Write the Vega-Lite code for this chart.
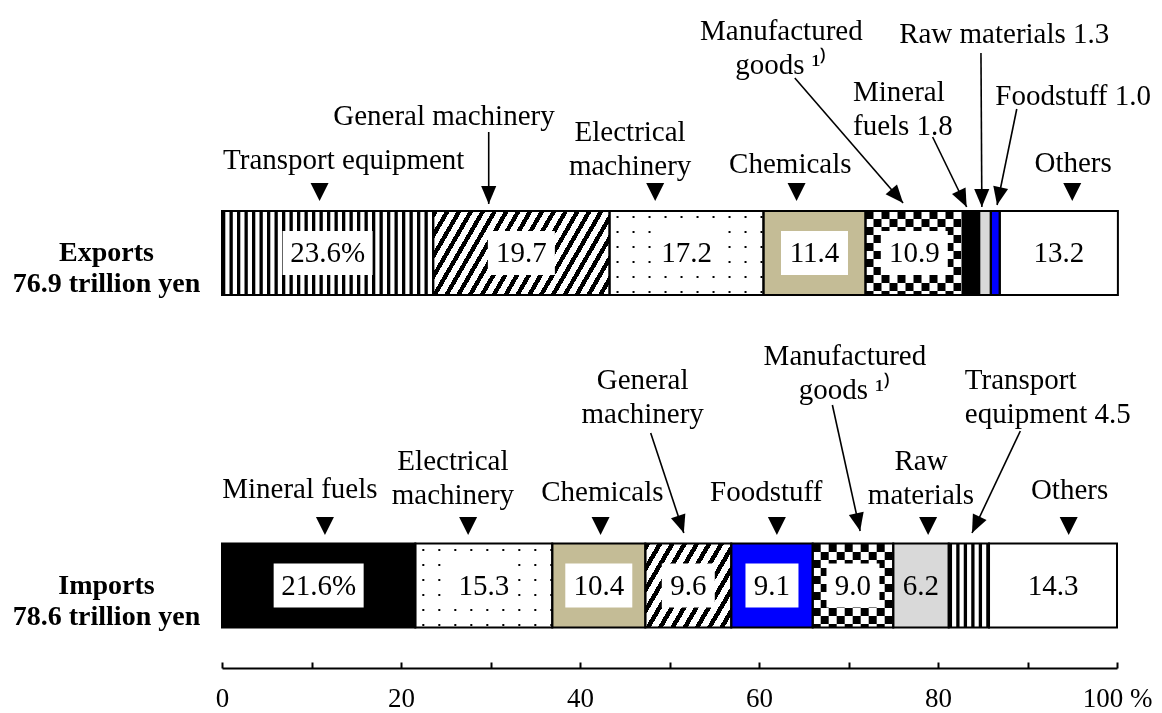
{
  "$schema": "https://vega.github.io/schema/vega-lite/v6.json",
  "width": 895,
  "height": 668,
  "autosize": {"type": "none"},
  "padding": {"left": 222, "top": 0, "right": 45, "bottom": 45},
  "background": "white",
  "config": {"view": {"stroke": null}, "font": "Liberation Serif"},
  "datasets": {
    "segments": [
      {"flow": "Exports|76.9 trillion yen", "category": "Transport equipment", "idx": 1, "value": 23.6},
      {"flow": "Exports|76.9 trillion yen", "category": "General machinery", "idx": 2, "value": 19.7},
      {"flow": "Exports|76.9 trillion yen", "category": "Electrical machinery", "idx": 3, "value": 17.2},
      {"flow": "Exports|76.9 trillion yen", "category": "Chemicals", "idx": 4, "value": 11.4},
      {"flow": "Exports|76.9 trillion yen", "category": "Manufactured goods", "idx": 5, "value": 10.9},
      {"flow": "Exports|76.9 trillion yen", "category": "Mineral fuels", "idx": 6, "value": 1.8},
      {"flow": "Exports|76.9 trillion yen", "category": "Raw materials", "idx": 7, "value": 1.3},
      {"flow": "Exports|76.9 trillion yen", "category": "Foodstuff", "idx": 8, "value": 1.0},
      {"flow": "Exports|76.9 trillion yen", "category": "Others", "idx": 9, "value": 13.2},
      {"flow": "Imports|78.6 trillion yen", "category": "Mineral fuels", "idx": 1, "value": 21.6},
      {"flow": "Imports|78.6 trillion yen", "category": "Electrical machinery", "idx": 2, "value": 15.3},
      {"flow": "Imports|78.6 trillion yen", "category": "Chemicals", "idx": 3, "value": 10.4},
      {"flow": "Imports|78.6 trillion yen", "category": "General machinery", "idx": 4, "value": 9.6},
      {"flow": "Imports|78.6 trillion yen", "category": "Foodstuff", "idx": 5, "value": 9.1},
      {"flow": "Imports|78.6 trillion yen", "category": "Manufactured goods", "idx": 6, "value": 9.0},
      {"flow": "Imports|78.6 trillion yen", "category": "Raw materials", "idx": 7, "value": 6.2},
      {"flow": "Imports|78.6 trillion yen", "category": "Transport equipment", "idx": 8, "value": 4.5},
      {"flow": "Imports|78.6 trillion yen", "category": "Others", "idx": 9, "value": 14.3}
    ],
    "labels": [
      {"text": "Transport equipment", "x": 13.6, "y": 50.8},
      {"text": "General machinery", "x": 24.8, "y": 55.2},
      {"text": "Electrical\nmachinery", "x": 45.6, "y": 53.6},
      {"text": "Chemicals", "x": 63.5, "y": 50.4},
      {"text": "Manufactured\ngoods ¹⁾", "x": 62.5, "y": 63.7},
      {"text": "Mineral\nfuels 1.8", "x": 70.5, "y": 57.6},
      {"text": "Raw materials 1.3", "x": 87.4, "y": 63.4},
      {"text": "Foodstuff 1.0", "x": 95.1, "y": 57.2},
      {"text": "Others", "x": 95.1, "y": 50.5},
      {"text": "Mineral fuels", "x": 8.7, "y": 17.9},
      {"text": "Electrical\nmachinery", "x": 25.8, "y": 20.7},
      {"text": "Chemicals", "x": 42.5, "y": 17.6},
      {"text": "General\nmachinery", "x": 47.0, "y": 28.8},
      {"text": "Foodstuff", "x": 60.8, "y": 17.6},
      {"text": "Manufactured\ngoods ¹⁾", "x": 69.6, "y": 31.2},
      {"text": "Raw\nmaterials", "x": 78.1, "y": 20.7},
      {"text": "Transport\nequipment 4.5", "x": 83.0, "y": 28.8},
      {"text": "Others", "x": 94.7, "y": 17.8}
    ],
    "markers": [
      {"x": 10.9, "y": 47.6}, {"x": 48.4, "y": 47.6}, {"x": 64.2, "y": 47.6}, {"x": 95.0, "y": 47.6},
      {"x": 11.5, "y": 14.2}, {"x": 27.5, "y": 14.2}, {"x": 42.3, "y": 14.2}, {"x": 62.0, "y": 14.2}, {"x": 78.9, "y": 14.2}, {"x": 94.6, "y": 14.2}
    ],
    "arrows": [
      {"x": 29.8, "y": 53.6, "x2": 29.8, "y2": 46.4},
      {"x": 64.0, "y": 59.0, "x2": 76.1, "y2": 46.5},
      {"x": 79.4, "y": 53.1, "x2": 83.2, "y2": 46.1},
      {"x": 84.8, "y": 61.5, "x2": 84.9, "y2": 46.1},
      {"x": 88.8, "y": 55.9, "x2": 86.6, "y2": 46.3},
      {"x": 47.9, "y": 23.5, "x2": 51.6, "y2": 13.5},
      {"x": 68.2, "y": 26.3, "x2": 71.3, "y2": 13.7},
      {"x": 89.2, "y": 23.7, "x2": 83.8, "y2": 13.5}
    ]
  },
  "resolve": {"scale": {"y": "independent"}, "axis": {"y": "independent"}},
  "layer": [
    {
      "data": {"name": "segments"},
      "transform": [
        {"stack": "value", "groupby": ["flow"], "sort": [{"field": "idx", "order": "ascending"}], "as": ["x0", "x1"]},
        {"calculate": "(datum.x0 + datum.x1) / 2", "as": "mid"},
        {"calculate": "datum.idx == 1 ? format(datum.value, '.1f') + '%' : format(datum.value, '.1f')", "as": "lab"}
      ],
      "layer": [
        {
          "mark": {"type": "bar"},
          "encoding": {
            "x": {"field": "x0", "type": "quantitative", "title": null,
              "scale": {"domain": [0, 100], "nice": false, "zero": true},
              "axis": {"values": [0, 10, 20, 30, 40, 50, 60, 70, 80, 90, 100],
                "labelExpr": "datum.value % 20 ? '' : (datum.value == 100 ? '100 %' : datum.label)",
                "grid": false, "domainColor": "black", "domainWidth": 2, "tickColor": "black", "tickWidth": 2, "tickSize": -6,
                "labelFont": "Liberation Serif", "labelFontSize": 27, "labelColor": "black", "labelPadding": 23,
                "labelFlush": false, "labelOverlap": false, "labelBound": false}},
            "x2": {"field": "x1"},
            "y": {"field": "flow", "type": "nominal", "title": null,
              "scale": {"domain": ["Exports|76.9 trillion yen", "Imports|78.6 trillion yen"], "paddingInner": 0.7474, "paddingOuter": 0.378, "align": 0.839},
              "axis": {"labelExpr": "split(datum.label, '|')", "ticks": false, "domain": false, "grid": false, "labelPadding": 116, "labelAlign": "center",
                "labelFont": "Liberation Serif", "labelFontSize": 28, "labelFontWeight": "bold", "labelColor": "black", "labelLineHeight": 31, "labelLimit": 0}},
            "color": {"field": "category", "type": "nominal", "legend": null,
              "scale": {"domain": ["Transport equipment", "General machinery", "Electrical machinery", "Chemicals", "Manufactured goods", "Mineral fuels", "Raw materials", "Foodstuff", "Others"],
                "range": ["#ffffff", "#ffffff", "#ffffff", "#c4bc96", "#ffffff", "#000000", "#d9d9d9", "#0000ff", "#ffffff"]}}
          }
        },
        {
          "transform": [{"filter": "datum.category == 'Transport equipment'"}],
          "mark": {"type": "rule", "strokeWidth": 84, "strokeDash": [3.3, 4.2], "color": "black"},
          "encoding": {
            "x": {"field": "x0", "type": "quantitative", "title": null},
            "x2": {"field": "x1"},
            "y": {"field": "flow", "type": "nominal", "title": null}
          }
        },
        {
          "transform": [{"filter": "datum.category == 'General machinery' && indexof(datum.flow, 'Exports') == 0"}],
          "mark": {"type": "bar", "fill": {"gradient": "linear", "x1": 0, "y1": 0, "x2": 1.186, "y2": 0.326, "stops": [
            {"offset": 0, "color": "#000"}, {"offset": 0.0221, "color": "#000"}, {"offset": 0.0221, "color": "#fff"}, {"offset": 0.0526, "color": "#fff"},
            {"offset": 0.0526, "color": "#000"}, {"offset": 0.0747, "color": "#000"}, {"offset": 0.0747, "color": "#fff"}, {"offset": 0.1053, "color": "#fff"},
            {"offset": 0.1053, "color": "#000"}, {"offset": 0.1274, "color": "#000"}, {"offset": 0.1274, "color": "#fff"}, {"offset": 0.1579, "color": "#fff"},
            {"offset": 0.1579, "color": "#000"}, {"offset": 0.18, "color": "#000"}, {"offset": 0.18, "color": "#fff"}, {"offset": 0.2105, "color": "#fff"},
            {"offset": 0.2105, "color": "#000"}, {"offset": 0.2326, "color": "#000"}, {"offset": 0.2326, "color": "#fff"}, {"offset": 0.2632, "color": "#fff"},
            {"offset": 0.2632, "color": "#000"}, {"offset": 0.2853, "color": "#000"}, {"offset": 0.2853, "color": "#fff"}, {"offset": 0.3158, "color": "#fff"},
            {"offset": 0.3158, "color": "#000"}, {"offset": 0.3379, "color": "#000"}, {"offset": 0.3379, "color": "#fff"}, {"offset": 0.3684, "color": "#fff"},
            {"offset": 0.3684, "color": "#000"}, {"offset": 0.3905, "color": "#000"}, {"offset": 0.3905, "color": "#fff"}, {"offset": 0.4211, "color": "#fff"},
            {"offset": 0.4211, "color": "#000"}, {"offset": 0.4432, "color": "#000"}, {"offset": 0.4432, "color": "#fff"}, {"offset": 0.4737, "color": "#fff"},
            {"offset": 0.4737, "color": "#000"}, {"offset": 0.4958, "color": "#000"}, {"offset": 0.4958, "color": "#fff"}, {"offset": 0.5263, "color": "#fff"},
            {"offset": 0.5263, "color": "#000"}, {"offset": 0.5484, "color": "#000"}, {"offset": 0.5484, "color": "#fff"}, {"offset": 0.5789, "color": "#fff"},
            {"offset": 0.5789, "color": "#000"}, {"offset": 0.601, "color": "#000"}, {"offset": 0.601, "color": "#fff"}, {"offset": 0.6316, "color": "#fff"},
            {"offset": 0.6316, "color": "#000"}, {"offset": 0.6537, "color": "#000"}, {"offset": 0.6537, "color": "#fff"}, {"offset": 0.6842, "color": "#fff"},
            {"offset": 0.6842, "color": "#000"}, {"offset": 0.7063, "color": "#000"}, {"offset": 0.7063, "color": "#fff"}, {"offset": 0.7368, "color": "#fff"},
            {"offset": 0.7368, "color": "#000"}, {"offset": 0.7589, "color": "#000"}, {"offset": 0.7589, "color": "#fff"}, {"offset": 0.7895, "color": "#fff"},
            {"offset": 0.7895, "color": "#000"}, {"offset": 0.8116, "color": "#000"}, {"offset": 0.8116, "color": "#fff"}, {"offset": 0.8421, "color": "#fff"},
            {"offset": 0.8421, "color": "#000"}, {"offset": 0.8642, "color": "#000"}, {"offset": 0.8642, "color": "#fff"}, {"offset": 0.8947, "color": "#fff"},
            {"offset": 0.8947, "color": "#000"}, {"offset": 0.9168, "color": "#000"}, {"offset": 0.9168, "color": "#fff"}, {"offset": 0.9474, "color": "#fff"},
            {"offset": 0.9474, "color": "#000"}, {"offset": 0.9695, "color": "#000"}, {"offset": 0.9695, "color": "#fff"}, {"offset": 1, "color": "#fff"}
          ]}},
          "encoding": {
            "x": {"field": "x0", "type": "quantitative", "title": null},
            "x2": {"field": "x1"},
            "y": {"field": "flow", "type": "nominal", "title": null}
          }
        },
        {
          "transform": [{"filter": "datum.category == 'General machinery' && indexof(datum.flow, 'Imports') == 0"}],
          "mark": {"type": "bar", "fill": {"gradient": "linear", "x1": 0, "y1": 0, "x2": 1.185, "y2": 0.677, "stops": [
            {"offset": 0, "color": "#000"}, {"offset": 0.0382, "color": "#000"}, {"offset": 0.0382, "color": "#fff"}, {"offset": 0.0909, "color": "#fff"},
            {"offset": 0.0909, "color": "#000"}, {"offset": 0.1291, "color": "#000"}, {"offset": 0.1291, "color": "#fff"}, {"offset": 0.1818, "color": "#fff"},
            {"offset": 0.1818, "color": "#000"}, {"offset": 0.22, "color": "#000"}, {"offset": 0.22, "color": "#fff"}, {"offset": 0.2727, "color": "#fff"},
            {"offset": 0.2727, "color": "#000"}, {"offset": 0.3109, "color": "#000"}, {"offset": 0.3109, "color": "#fff"}, {"offset": 0.3636, "color": "#fff"},
            {"offset": 0.3636, "color": "#000"}, {"offset": 0.4018, "color": "#000"}, {"offset": 0.4018, "color": "#fff"}, {"offset": 0.4545, "color": "#fff"},
            {"offset": 0.4545, "color": "#000"}, {"offset": 0.4927, "color": "#000"}, {"offset": 0.4927, "color": "#fff"}, {"offset": 0.5455, "color": "#fff"},
            {"offset": 0.5455, "color": "#000"}, {"offset": 0.5837, "color": "#000"}, {"offset": 0.5837, "color": "#fff"}, {"offset": 0.6364, "color": "#fff"},
            {"offset": 0.6364, "color": "#000"}, {"offset": 0.6746, "color": "#000"}, {"offset": 0.6746, "color": "#fff"}, {"offset": 0.7273, "color": "#fff"},
            {"offset": 0.7273, "color": "#000"}, {"offset": 0.7655, "color": "#000"}, {"offset": 0.7655, "color": "#fff"}, {"offset": 0.8182, "color": "#fff"},
            {"offset": 0.8182, "color": "#000"}, {"offset": 0.8564, "color": "#000"}, {"offset": 0.8564, "color": "#fff"}, {"offset": 0.9091, "color": "#fff"},
            {"offset": 0.9091, "color": "#000"}, {"offset": 0.9473, "color": "#000"}, {"offset": 0.9473, "color": "#fff"}, {"offset": 1, "color": "#fff"}
          ]}},
          "encoding": {
            "x": {"field": "x0", "type": "quantitative", "title": null},
            "x2": {"field": "x1"},
            "y": {"field": "flow", "type": "nominal", "title": null}
          }
        },
        {
          "transform": [{"filter": "datum.category == 'Electrical machinery'"}],
          "mark": {"type": "rule", "strokeWidth": 84, "strokeDash": [2, 14], "strokeDashOffset": 9, "color": "black"},
          "encoding": {
            "x": {"field": "x0", "type": "quantitative", "title": null},
            "x2": {"field": "x1"},
            "y": {"field": "flow", "type": "nominal", "title": null}
          }
        },
        {
          "transform": [{"filter": "datum.category == 'Electrical machinery'"}],
          "mark": {"type": "bar", "fill": {"gradient": "linear", "x1": 0, "y1": 0, "x2": 0, "y2": 1, "stops": [
            {"offset": 0, "color": "#fff"}, {"offset": 0.0595, "color": "#fff"}, {"offset": 0.0595, "color": "rgba(255,255,255,0)"}, {"offset": 0.0833, "color": "rgba(255,255,255,0)"},
            {"offset": 0.0833, "color": "#fff"}, {"offset": 0.2381, "color": "#fff"}, {"offset": 0.2381, "color": "rgba(255,255,255,0)"}, {"offset": 0.2619, "color": "rgba(255,255,255,0)"},
            {"offset": 0.2619, "color": "#fff"}, {"offset": 0.4167, "color": "#fff"}, {"offset": 0.4167, "color": "rgba(255,255,255,0)"}, {"offset": 0.4405, "color": "rgba(255,255,255,0)"},
            {"offset": 0.4405, "color": "#fff"}, {"offset": 0.5952, "color": "#fff"}, {"offset": 0.5952, "color": "rgba(255,255,255,0)"}, {"offset": 0.619, "color": "rgba(255,255,255,0)"},
            {"offset": 0.619, "color": "#fff"}, {"offset": 0.7738, "color": "#fff"}, {"offset": 0.7738, "color": "rgba(255,255,255,0)"}, {"offset": 0.7976, "color": "rgba(255,255,255,0)"},
            {"offset": 0.7976, "color": "#fff"}, {"offset": 0.9524, "color": "#fff"}, {"offset": 0.9524, "color": "rgba(255,255,255,0)"}, {"offset": 0.9762, "color": "rgba(255,255,255,0)"},
            {"offset": 0.9762, "color": "#fff"}, {"offset": 1, "color": "#fff"}
          ]}},
          "encoding": {
            "x": {"field": "x0", "type": "quantitative", "title": null},
            "x2": {"field": "x1"},
            "y": {"field": "flow", "type": "nominal", "title": null}
          }
        },
        {
          "transform": [{"filter": "datum.category == 'Manufactured goods'"}],
          "mark": {"type": "rule", "strokeWidth": 84, "strokeDash": [8, 8], "color": "black"},
          "encoding": {
            "x": {"field": "x0", "type": "quantitative", "title": null},
            "x2": {"field": "x1"},
            "y": {"field": "flow", "type": "nominal", "title": null}
          }
        },
        {
          "transform": [{"filter": "datum.category == 'Manufactured goods'"}],
          "mark": {"type": "bar", "blend": "difference", "fill": {"gradient": "linear", "x1": 0, "y1": 0, "x2": 0, "y2": 1, "stops": [
            {"offset": 0, "color": "#000"}, {"offset": 0.0952, "color": "#000"}, {"offset": 0.0952, "color": "#fff"}, {"offset": 0.1905, "color": "#fff"},
            {"offset": 0.1905, "color": "#000"}, {"offset": 0.2857, "color": "#000"}, {"offset": 0.2857, "color": "#fff"}, {"offset": 0.381, "color": "#fff"},
            {"offset": 0.381, "color": "#000"}, {"offset": 0.4762, "color": "#000"}, {"offset": 0.4762, "color": "#fff"}, {"offset": 0.5714, "color": "#fff"},
            {"offset": 0.5714, "color": "#000"}, {"offset": 0.6667, "color": "#000"}, {"offset": 0.6667, "color": "#fff"}, {"offset": 0.7619, "color": "#fff"},
            {"offset": 0.7619, "color": "#000"}, {"offset": 0.8571, "color": "#000"}, {"offset": 0.8571, "color": "#fff"}, {"offset": 0.9524, "color": "#fff"},
            {"offset": 0.9524, "color": "#000"}, {"offset": 1, "color": "#000"}
          ]}},
          "encoding": {
            "x": {"field": "x0", "type": "quantitative", "title": null},
            "x2": {"field": "x1"},
            "y": {"field": "flow", "type": "nominal", "title": null}
          }
        },
        {
          "mark": {"type": "bar", "fillOpacity": 0, "stroke": "black", "strokeWidth": 2},
          "encoding": {
            "x": {"field": "x0", "type": "quantitative", "title": null},
            "x2": {"field": "x1"},
            "y": {"field": "flow", "type": "nominal", "title": null}
          }
        },
        {
          "transform": [{"filter": "datum.value >= 5 && datum.category != 'Raw materials' && datum.category != 'Others' && length(datum.lab) == 5"}],
          "mark": {"type": "point", "shape": "M-1,-0.489L1,-0.489L1,0.489L-1,0.489Z", "size": 8100, "filled": true, "fill": "white", "opacity": 1, "strokeWidth": 0},
          "encoding": {
            "x": {"field": "mid", "type": "quantitative", "title": null},
            "y": {"field": "flow", "type": "nominal", "title": null}
          }
        },
        {
          "transform": [{"filter": "datum.value >= 5 && datum.category != 'Raw materials' && datum.category != 'Others' && length(datum.lab) == 4"}],
          "mark": {"type": "point", "shape": "M-1,-0.657L1,-0.657L1,0.657L-1,0.657Z", "size": 4489, "filled": true, "fill": "white", "opacity": 1, "strokeWidth": 0},
          "encoding": {
            "x": {"field": "mid", "type": "quantitative", "title": null},
            "y": {"field": "flow", "type": "nominal", "title": null}
          }
        },
        {
          "transform": [{"filter": "datum.value >= 5 && datum.category != 'Raw materials' && datum.category != 'Others' && length(datum.lab) == 3"}],
          "mark": {"type": "point", "shape": "M-1,-0.83L1,-0.83L1,0.83L-1,0.83Z", "size": 2809, "filled": true, "fill": "white", "opacity": 1, "strokeWidth": 0},
          "encoding": {
            "x": {"field": "mid", "type": "quantitative", "title": null},
            "y": {"field": "flow", "type": "nominal", "title": null}
          }
        },
        {
          "transform": [{"filter": "datum.value >= 5"}],
          "mark": {"type": "text", "font": "Liberation Serif", "fontSize": 29, "color": "black", "align": "center", "baseline": "middle"},
          "encoding": {
            "x": {"field": "mid", "type": "quantitative", "title": null},
            "y": {"field": "flow", "type": "nominal", "title": null},
            "text": {"field": "lab"}
          }
        }
      ]
    },
    {
      "layer": [
        {
          "data": {"name": "labels"},
          "transform": [{"filter": "indexof(datum.text, 'fuels 1.8') < 0 && indexof(datum.text, 'equipment 4.5') < 0"}],
          "mark": {"type": "text", "font": "Liberation Serif", "fontSize": 29, "lineBreak": "\n", "lineHeight": 34, "align": "center", "baseline": "middle", "color": "black"},
          "encoding": {
            "x": {"field": "x", "type": "quantitative", "title": null},
            "y": {"field": "y", "type": "quantitative", "title": null, "axis": null, "scale": {"domain": [0, 66.8], "nice": false, "zero": false}},
            "text": {"field": "text"}
          }
        },
        {
          "data": {"name": "labels"},
          "transform": [{"filter": "indexof(datum.text, 'fuels 1.8') >= 0 || indexof(datum.text, 'equipment 4.5') >= 0"}],
          "mark": {"type": "text", "font": "Liberation Serif", "fontSize": 29, "lineBreak": "\n", "lineHeight": 34, "align": "left", "baseline": "middle", "color": "black"},
          "encoding": {
            "x": {"field": "x", "type": "quantitative", "title": null},
            "y": {"field": "y", "type": "quantitative", "title": null, "axis": null, "scale": {"domain": [0, 66.8], "nice": false, "zero": false}},
            "text": {"field": "text"}
          }
        },
        {
          "data": {"name": "markers"},
          "mark": {"type": "point", "shape": "M-1,-1L1,-1L0,1Z", "size": 324, "filled": true, "fill": "black", "opacity": 1, "strokeWidth": 0},
          "encoding": {
            "x": {"field": "x", "type": "quantitative", "title": null},
            "y": {"field": "y", "type": "quantitative", "title": null, "axis": null, "scale": {"domain": [0, 66.8], "nice": false, "zero": false}}
          }
        },
        {
          "data": {"name": "arrows"},
          "mark": {"type": "rule", "strokeWidth": 1.6, "color": "black"},
          "encoding": {
            "x": {"field": "x", "type": "quantitative", "title": null},
            "y": {"field": "y", "type": "quantitative", "title": null, "axis": null, "scale": {"domain": [0, 66.8], "nice": false, "zero": false}},
            "x2": {"field": "x2"},
            "y2": {"field": "y2"}
          }
        },
        {
          "data": {"name": "arrows"},
          "transform": [{"calculate": "atan2(-(datum.x2 - datum.x) * 8.95, (datum.y - datum.y2) * 10) * 180 / PI", "as": "ang"}],
          "mark": {"type": "point", "shape": "M0,0L-0.42,-1L0.42,-1Z", "size": 1296, "filled": true, "fill": "black", "opacity": 1, "strokeWidth": 0},
          "encoding": {
            "x": {"field": "x2", "type": "quantitative", "title": null},
            "y": {"field": "y2", "type": "quantitative", "title": null, "axis": null, "scale": {"domain": [0, 66.8], "nice": false, "zero": false}},
            "angle": {"field": "ang", "type": "quantitative", "scale": null}
          }
        }
      ]
    }
  ]
}
